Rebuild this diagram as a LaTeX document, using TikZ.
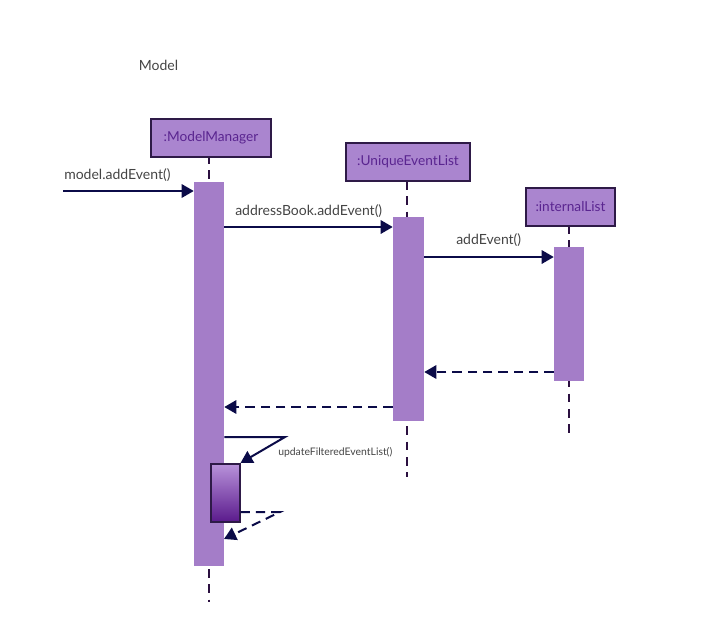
\documentclass[tikz,border=0pt]{standalone}
\usepackage{fontspec}
\setmainfont{Lato}
\usetikzlibrary{arrows.meta}
\definecolor{actfill}{HTML}{A47DC8}
\definecolor{boxfill}{HTML}{AA85CF}
\definecolor{boxborder}{HTML}{2E1A47}
\definecolor{boxtext}{HTML}{5A2590}
\definecolor{msg}{HTML}{0B0B48}
\definecolor{life}{HTML}{2B1040}
\definecolor{lbl}{HTML}{444444}
\definecolor{deep}{HTML}{5A1A8C}
\definecolor{light}{HTML}{B892DA}
\tikzset{
  objbox/.style={draw=boxborder, line width=1.5pt, fill=boxfill, text=boxtext, font=\fontsize{10.25}{12}\selectfont, inner sep=0pt, minimum height=28.5pt, anchor=north west},
  actbox/.style={fill=actfill, draw=none},
  lifeline/.style={draw=life, line width=1.5pt, dash pattern=on 6.5pt off 5pt},
  call/.style={draw=msg, line width=1.5pt, -{Triangle[length=9pt,width=10pt]}},
  reply/.style={draw=msg, line width=1.5pt, dash pattern=on 7pt off 4.5pt, -{Triangle[length=9pt,width=10pt]}},
  lab/.style={text=lbl, font=\fontsize{10.5}{12}\selectfont, inner sep=0pt},
  smalllab/.style={text=lbl, font=\fontsize{7.8}{9}\selectfont, inner sep=0pt}
}
\begin{document}
\begin{tikzpicture}[x=0.75pt,y=-0.75pt]
\useasboundingbox (0,0) rectangle (716,642);
\node[lab] (model) at (158.5,65) {Model};
% lifelines
\coordinate (mmtop) at (209,155);
\coordinate (mmbot) at (209,602);
\coordinate (uetop) at (407,181);
\coordinate (uebot) at (407,477);
\coordinate (iltop) at (569,225);
\coordinate (ilbot) at (569,437);
\draw[lifeline] (mmtop) -- (mmbot);
\draw[lifeline] (uetop) -- (uebot);
\draw[lifeline] (iltop) -- (ilbot);
% boxes
\node[objbox, minimum width=90pt] (mm) at (150,118) {:ModelManager};
\node[objbox, minimum width=93pt] (ue) at (345,142) {:UniqueEventList};
\node[objbox, minimum width=66.75pt] (il) at (525,187) {:internalList};
% activations
\path[actbox] (194,182) rectangle (224,566);
\node[inner sep=0pt, minimum width=22.5pt, minimum height=288pt] (amm) at (209,374) {};
\path[actbox] (393,217) rectangle (424,421);
\node[inner sep=0pt, minimum width=23.25pt, minimum height=153pt] (aue) at (408.5,319) {};
\path[actbox] (554,247) rectangle (584,381);
\node[inner sep=0pt, minimum width=22.5pt, minimum height=100.5pt] (ail) at (569,314) {};
% small activation
\node[draw=boxborder, line width=1.5pt, top color=light, bottom color=deep, inner sep=0pt, minimum width=21.75pt, minimum height=43.5pt, anchor=north west] (self) at (209.5,463) {};
% messages
\coordinate (start) at (63,191);
\draw[call] (start) -- (amm.west |- start);
\node[lab, anchor=south west] (l1) at (64,182) {model.addEvent()};
\draw[call] (amm.east |- 0,227) -- (aue.west |- 0,227);
\node[lab, anchor=south west] (l2) at (235,218) {addressBook.addEvent()};
\draw[call] (aue.east |- 0,257) -- (ail.west |- 0,257);
\node[lab, anchor=south west] (l3) at (456,247) {addEvent()};
\draw[reply] (ail.west |- 0,372) -- (aue.east |- 0,372);
\draw[reply] (aue.west |- 0,407) -- (amm.east |- 0,407);
% self call
\coordinate (sc1) at (285,437);
\draw[call] (amm.east |- 0,437) -- (sc1) -- (self.north east);
\node[smalllab, anchor=west] (l4) at (278,452) {updateFilteredEventList()};
\coordinate (sr1) at (280,512);
\draw[reply] (self.east |- 0,512) -- (sr1) -- (224,539);
\end{tikzpicture}
\end{document}
